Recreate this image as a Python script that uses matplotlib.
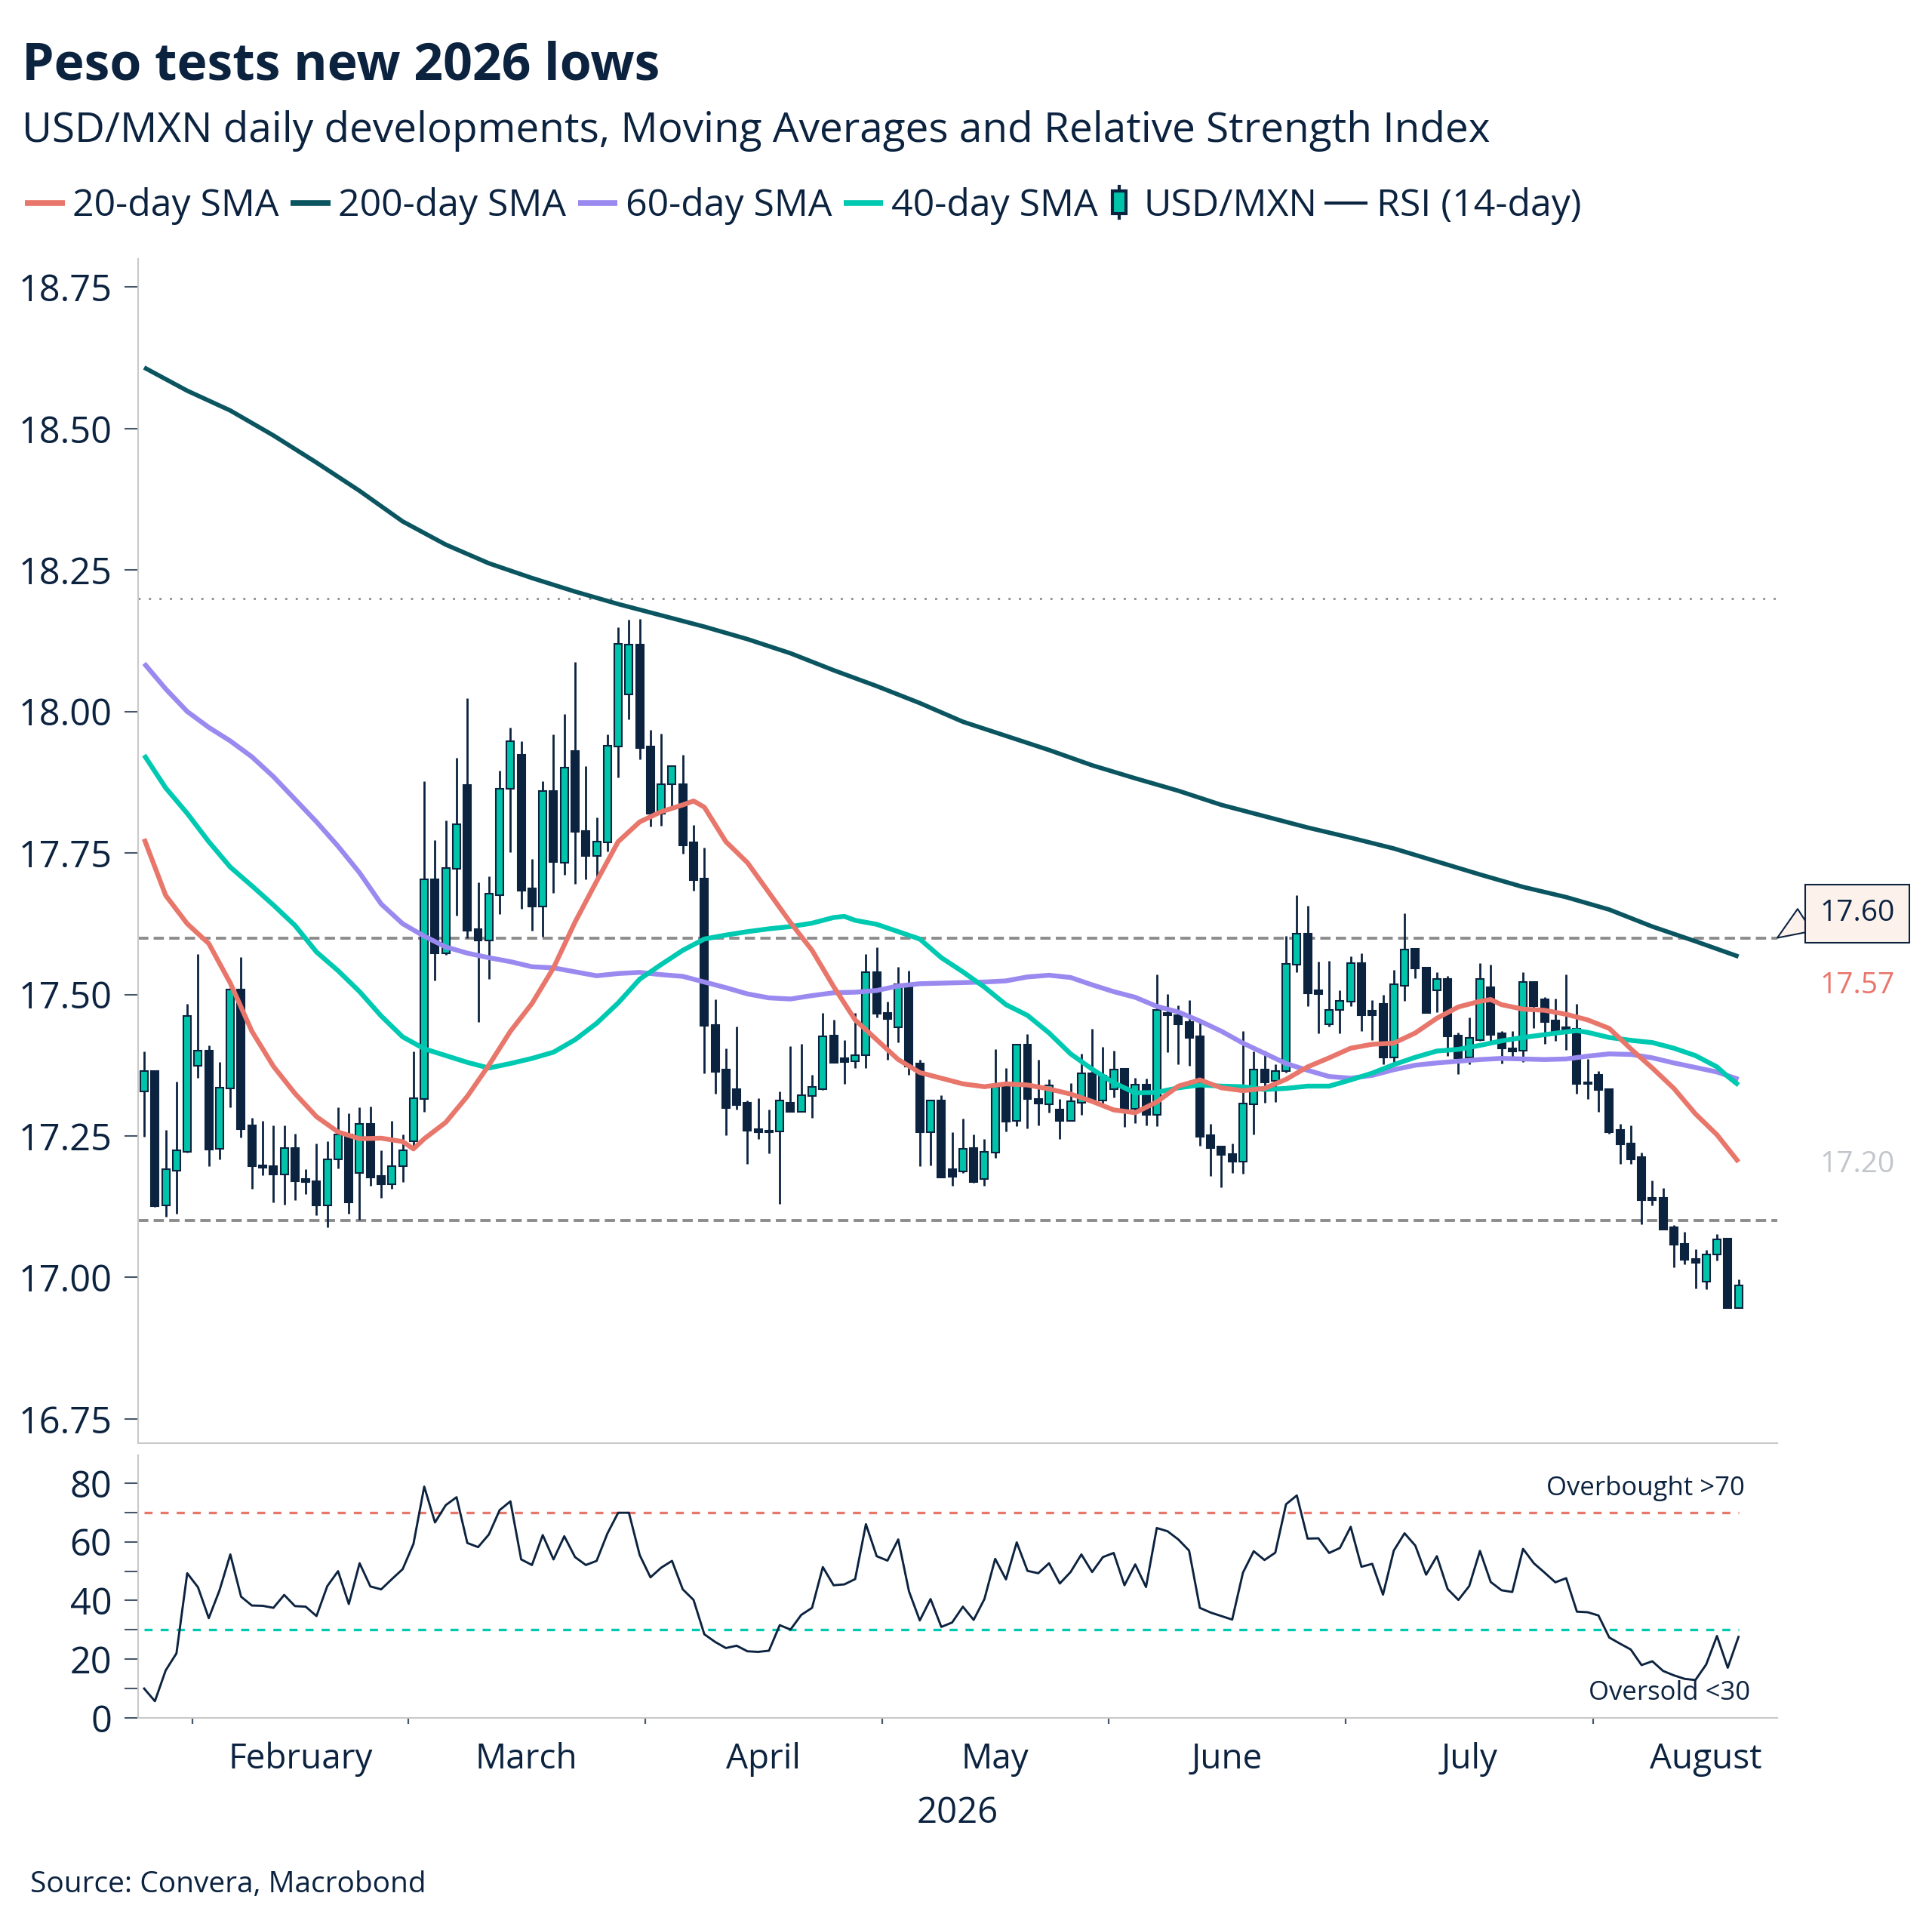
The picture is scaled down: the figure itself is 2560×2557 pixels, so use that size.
import numpy as np
import pandas as pd
import matplotlib
matplotlib.use("Agg")
import matplotlib.pyplot as plt
from matplotlib.lines import Line2D
from matplotlib.patches import Rectangle
from matplotlib.legend_handler import HandlerBase
from matplotlib.ticker import FixedLocator, FormatStrFormatter, MultipleLocator

plt.rcParams["font.family"] = ["Open Sans", "DejaVu Sans"]

NAVY = "#0c2340"
TEAL = "#00c4aa"
SALMON = "#e8766b"
DARKTEAL = "#0a5560"
LAVENDER = "#9a8af0"
TEAL40 = "#00c9b1"
GREY = "#8c8c8c"
SPINE = "#c9c9c9"
TICK = "#46566b"

# USD/MXN daily candles (first day 2026-01-26)
open_ = [17.329, 17.364, 17.127, 17.189, 17.222, 17.374, 17.400, 17.227, 17.334, 17.509,
         17.269, 17.198, 17.196, 17.182, 17.228, 17.174, 17.170, 17.127, 17.209, 17.253,
         17.184, 17.271, 17.179, 17.164, 17.196, 17.240, 17.315, 17.703, 17.573, 17.722,
         17.870, 17.616, 17.596, 17.676, 17.864, 17.924, 17.687, 17.656, 17.859, 17.733,
         17.930, 17.789, 17.745, 17.769, 17.938, 18.030, 18.118, 17.938, 17.820, 17.871,
         17.872, 17.769, 17.705, 17.446, 17.367, 17.333, 17.309, 17.262, 17.259, 17.258,
         17.309, 17.292, 17.321, 17.333, 17.427, 17.387, 17.382, 17.392, 17.539, 17.468,
         17.442, 17.518, 17.378, 17.257, 17.312, 17.191, 17.187, 17.229, 17.174, 17.220,
         17.336, 17.276, 17.412, 17.315, 17.306, 17.297, 17.276, 17.309, 17.361, 17.313,
         17.333, 17.368, 17.298, 17.340, 17.287, 17.468, 17.464, 17.451, 17.426, 17.251,
         17.231, 17.218, 17.205, 17.306, 17.367, 17.347, 17.364, 17.553, 17.607, 17.507,
         17.447, 17.473, 17.487, 17.556, 17.471, 17.484, 17.389, 17.516, 17.581, 17.548,
         17.507, 17.528, 17.428, 17.389, 17.420, 17.513, 17.431, 17.405, 17.400, 17.522,
         17.491, 17.454, 17.442, 17.439, 17.344, 17.358, 17.333, 17.261, 17.236, 17.212,
         17.141, 17.141, 17.088, 17.059, 17.032, 16.993, 17.041, 17.068, 16.946]
high = [17.399, 17.366, 17.260, 17.346, 17.484, 17.572, 17.410, 17.380, 17.511, 17.566,
        17.282, 17.276, 17.269, 17.269, 17.254, 17.191, 17.236, 17.240, 17.301, 17.290,
        17.301, 17.302, 17.224, 17.276, 17.253, 17.399, 17.877, 17.773, 17.808, 17.918,
        18.024, 17.698, 17.709, 17.895, 17.971, 17.947, 17.739, 17.877, 17.959, 17.996,
        18.088, 17.904, 17.813, 17.960, 18.149, 18.162, 18.164, 17.968, 17.961, 17.904,
        17.924, 17.800, 17.760, 17.491, 17.404, 17.444, 17.312, 17.316, 17.296, 17.329,
        17.409, 17.413, 17.358, 17.467, 17.456, 17.419, 17.468, 17.572, 17.584, 17.487,
        17.549, 17.542, 17.384, 17.312, 17.322, 17.256, 17.281, 17.253, 17.244, 17.403,
        17.370, 17.412, 17.430, 17.384, 17.350, 17.315, 17.343, 17.395, 17.439, 17.408,
        17.400, 17.368, 17.353, 17.351, 17.536, 17.501, 17.481, 17.490, 17.451, 17.271,
        17.231, 17.236, 17.436, 17.399, 17.401, 17.376, 17.604, 17.676, 17.657, 17.558,
        17.560, 17.507, 17.567, 17.573, 17.490, 17.500, 17.544, 17.644, 17.581, 17.548,
        17.540, 17.533, 17.433, 17.460, 17.556, 17.553, 17.436, 17.435, 17.539, 17.522,
        17.495, 17.493, 17.535, 17.484, 17.386, 17.364, 17.333, 17.271, 17.269, 17.220,
        17.171, 17.158, 17.093, 17.080, 17.050, 17.049, 17.076, 17.069, 16.996]
low = [17.249, 17.124, 17.107, 17.113, 17.220, 17.352, 17.196, 17.209, 17.301, 17.247,
       17.156, 17.180, 17.132, 17.129, 17.137, 17.147, 17.110, 17.088, 17.193, 17.112,
       17.102, 17.162, 17.140, 17.156, 17.168, 17.233, 17.292, 17.525, 17.570, 17.640,
       17.600, 17.452, 17.528, 17.642, 17.751, 17.652, 17.613, 17.602, 17.679, 17.711,
       17.696, 17.703, 17.698, 17.753, 17.884, 17.986, 17.916, 17.797, 17.798, 17.833,
       17.749, 17.684, 17.360, 17.325, 17.251, 17.297, 17.201, 17.244, 17.219, 17.130,
       17.292, 17.292, 17.282, 17.331, 17.379, 17.342, 17.370, 17.370, 17.460, 17.384,
       17.416, 17.358, 17.196, 17.198, 17.176, 17.162, 17.184, 17.167, 17.162, 17.211,
       17.258, 17.267, 17.263, 17.268, 17.291, 17.245, 17.276, 17.287, 17.313, 17.304,
       17.318, 17.266, 17.273, 17.269, 17.267, 17.398, 17.377, 17.374, 17.232, 17.179,
       17.159, 17.184, 17.183, 17.252, 17.309, 17.310, 17.362, 17.540, 17.480, 17.432,
       17.444, 17.431, 17.479, 17.436, 17.419, 17.377, 17.377, 17.489, 17.529, 17.467,
       17.469, 17.391, 17.359, 17.377, 17.418, 17.418, 17.378, 17.389, 17.380, 17.441,
       17.413, 17.418, 17.402, 17.324, 17.315, 17.292, 17.254, 17.201, 17.201, 17.094,
       17.127, 17.084, 17.018, 17.023, 16.980, 16.979, 17.030, 16.946, 16.946]
close = [17.364, 17.126, 17.191, 17.224, 17.462, 17.400, 17.226, 17.335, 17.509, 17.262,
         17.196, 17.194, 17.182, 17.228, 17.170, 17.168, 17.127, 17.209, 17.253, 17.133,
         17.271, 17.176, 17.164, 17.196, 17.224, 17.317, 17.703, 17.573, 17.724, 17.801,
         17.613, 17.596, 17.678, 17.864, 17.947, 17.684, 17.656, 17.859, 17.734, 17.901,
         17.787, 17.745, 17.770, 17.939, 18.120, 18.118, 17.936, 17.820, 17.871, 17.904,
         17.764, 17.702, 17.445, 17.363, 17.299, 17.304, 17.259, 17.256, 17.256, 17.313,
         17.292, 17.322, 17.337, 17.426, 17.379, 17.381, 17.393, 17.539, 17.466, 17.457,
         17.518, 17.373, 17.256, 17.312, 17.176, 17.178, 17.227, 17.169, 17.222, 17.336,
         17.275, 17.412, 17.315, 17.307, 17.339, 17.276, 17.311, 17.361, 17.313, 17.356,
         17.367, 17.298, 17.340, 17.287, 17.473, 17.464, 17.448, 17.424, 17.248, 17.229,
         17.217, 17.204, 17.307, 17.367, 17.344, 17.365, 17.554, 17.607, 17.502, 17.501,
         17.473, 17.489, 17.556, 17.463, 17.464, 17.389, 17.518, 17.580, 17.546, 17.468,
         17.527, 17.426, 17.387, 17.423, 17.528, 17.429, 17.404, 17.399, 17.522, 17.480,
         17.452, 17.436, 17.438, 17.342, 17.342, 17.331, 17.256, 17.235, 17.209, 17.136,
         17.137, 17.084, 17.058, 17.031, 17.026, 17.040, 17.067, 16.946, 16.986]

# RSI (14-day), one value per day
rsi = [10.0, 5.7, 16.2, 22.0, 49.3, 44.5, 34.0, 43.5, 55.7, 41.3,
       38.3, 38.2, 37.5, 41.9, 38.1, 37.9, 34.7, 44.9, 50.0, 38.8,
       52.7, 44.8, 43.8, 47.3, 50.7, 59.3, 78.8, 66.6, 72.5, 75.2,
       59.6, 58.2, 62.5, 70.8, 73.8, 54.0, 52.1, 62.3, 54.0, 61.9,
       54.8, 52.1, 53.5, 62.8, 69.9, 69.9, 55.5, 47.9, 51.2, 53.5,
       43.8, 40.2, 28.5, 25.9, 23.8, 24.6, 22.7, 22.5, 22.9, 31.6,
       30.1, 35.1, 37.5, 51.4, 45.2, 45.5, 47.3, 66.0, 55.1, 53.6,
       60.8, 43.1, 33.2, 40.5, 31.0, 32.5, 37.9, 33.4, 40.5, 54.2,
       47.2, 59.8, 50.1, 49.3, 52.7, 45.8, 49.7, 55.7, 49.7, 54.8,
       56.2, 45.2, 52.3, 44.6, 64.7, 63.6, 60.8, 57.0, 37.5, 35.9,
       34.7, 33.5, 49.5, 56.8, 53.8, 56.3, 72.8, 75.8, 61.1, 61.2,
       56.2, 57.9, 65.1, 51.5, 52.5, 42.0, 57.0, 62.9, 58.7, 48.8,
       55.1, 43.9, 40.2, 44.9, 56.9, 46.3, 43.5, 42.9, 57.6, 52.7,
       49.5, 46.2, 47.6, 36.2, 36.0, 34.9, 27.4, 25.3, 23.3, 18.0,
       19.3, 16.0, 14.5, 13.3, 12.9, 18.2, 27.9, 17.1, 27.6]

# moving averages, read at sampled days (day number counted from first candle)
sma20_day = [0, 2, 4, 6, 8, 10, 12, 14, 16, 18, 20, 22, 24, 25, 26, 28, 30, 32, 34, 36,
             38, 40, 42, 44, 46, 48, 50, 51, 52, 54, 56, 58, 60, 62, 64, 66, 68, 70, 72, 74,
             76, 78, 80, 82, 84, 86, 88, 90, 92, 94, 96, 98, 100, 102, 104, 106, 108, 110,
             112, 114, 116, 118, 120, 122, 124, 125, 126, 128, 130, 132, 134, 136, 138, 140,
             142, 144, 146, 148]
sma20 = [17.775, 17.675, 17.625, 17.590, 17.520, 17.435, 17.373, 17.325, 17.284, 17.257,
         17.245, 17.246, 17.240, 17.227, 17.245, 17.274, 17.320, 17.375, 17.435, 17.484,
         17.547, 17.628, 17.700, 17.770, 17.805, 17.823, 17.835, 17.842, 17.831, 17.770,
         17.733, 17.680, 17.627, 17.578, 17.514, 17.455, 17.420, 17.385, 17.362, 17.352,
         17.342, 17.337, 17.342, 17.340, 17.333, 17.324, 17.311, 17.296, 17.291, 17.310,
         17.338, 17.349, 17.335, 17.330, 17.334, 17.350, 17.372, 17.388, 17.405, 17.412,
         17.414, 17.432, 17.458, 17.478, 17.488, 17.491, 17.482, 17.474, 17.472, 17.465,
         17.455, 17.440, 17.404, 17.370, 17.334, 17.289, 17.252, 17.204]

sma40_day = [0, 2, 4, 6, 8, 10, 12, 14, 16, 18, 20, 22, 24, 26, 28, 30, 32, 34, 36, 38,
             40, 42, 44, 46, 48, 50, 52, 54, 56, 58, 60, 62, 64, 65, 66, 68, 70, 72, 74, 76,
             78, 80, 82, 84, 86, 88, 90, 92, 94, 96, 98, 100, 102, 104, 106, 108, 110, 112,
             114, 116, 118, 120, 122, 124, 126, 128, 130, 132, 133, 134, 136, 138, 140, 142,
             144, 146, 147, 148]
sma40 = [17.923, 17.865, 17.820, 17.770, 17.725, 17.692, 17.658, 17.622, 17.575, 17.542,
         17.505, 17.462, 17.425, 17.404, 17.392, 17.380, 17.370, 17.378, 17.387, 17.398,
         17.420, 17.449, 17.485, 17.527, 17.553, 17.578, 17.598, 17.605, 17.611, 17.616,
         17.620, 17.626, 17.636, 17.638, 17.631, 17.624, 17.611, 17.598, 17.565, 17.540,
         17.513, 17.482, 17.463, 17.432, 17.395, 17.368, 17.344, 17.326, 17.327, 17.335,
         17.340, 17.338, 17.337, 17.332, 17.334, 17.338, 17.338, 17.349, 17.361, 17.376,
         17.389, 17.400, 17.403, 17.410, 17.418, 17.424, 17.429, 17.434, 17.436, 17.433,
         17.424, 17.419, 17.415, 17.405, 17.392, 17.372, 17.355, 17.340]

sma60_day = list(range(0, 149, 2))
sma60 = [18.085, 18.040, 18.000, 17.972, 17.948, 17.920, 17.885, 17.845, 17.805, 17.762,
         17.715, 17.660, 17.625, 17.603, 17.584, 17.573, 17.565, 17.558, 17.549, 17.547,
         17.540, 17.533, 17.537, 17.539, 17.535, 17.532, 17.522, 17.512, 17.501, 17.494,
         17.492, 17.498, 17.503, 17.504, 17.507, 17.515, 17.519, 17.520, 17.521, 17.522,
         17.524, 17.531, 17.534, 17.530, 17.517, 17.505, 17.495, 17.479, 17.469, 17.453,
         17.435, 17.414, 17.396, 17.378, 17.366, 17.355, 17.352, 17.357, 17.367, 17.375,
         17.379, 17.382, 17.385, 17.387, 17.386, 17.385, 17.386, 17.391, 17.395, 17.394,
         17.388, 17.379, 17.371, 17.363, 17.350]

sma200_day = list(range(0, 149, 4))
sma200 = [18.608, 18.567, 18.532, 18.488, 18.440, 18.390, 18.336, 18.295, 18.262, 18.236,
          18.212, 18.190, 18.170, 18.150, 18.128, 18.103, 18.073, 18.045, 18.015, 17.982,
          17.957, 17.932, 17.905, 17.882, 17.860, 17.835, 17.815, 17.795, 17.777, 17.758,
          17.735, 17.712, 17.690, 17.672, 17.650, 17.620, 17.594, 17.567]

levels_dashed = [17.60, 17.10]
level_dotted = 18.20
rsi_overbought = 70
rsi_oversold = 30
price_ticks = [16.75, 17.00, 17.25, 17.50, 17.75, 18.00, 18.25, 18.50, 18.75]
end_labels = [("17.57", 17.516, SALMON), ("17.20", 17.199, "#c2c6cb")]
callout_value = 17.60

open_ = np.array(open_)
high = np.array(high)
low = np.array(low)
close = np.array(close)
dates = pd.bdate_range("2026-01-26", periods=len(close))
x = np.arange(len(dates))

# month boundaries / centres on the trading-day axis
bounds, centres, names = [], [], []
for m in pd.period_range("2026-02", "2026-08", freq="M"):
    first = int(np.argmax(dates >= m.start_time)) - 0.5
    ndays = len(pd.bdate_range(m.start_time, m.end_time))
    bounds.append(first)
    centres.append(first + ndays / 2)
    names.append(m.strftime("%B"))

W, H = 2560, 2557
fig = plt.figure(figsize=(W / 100, H / 100), dpi=100)
ax = fig.add_axes([183 / W, 1 - 1912 / H, (2355 - 183) / W, (1912 - 343) / H])
axr = fig.add_axes([183 / W, 1 - 2276 / H, (2355 - 183) / W, (2276 - 1928) / H], sharex=ax)

for a in (ax, axr):
    for s in ("top", "right"):
        a.spines[s].set_visible(False)
    for s in ("left", "bottom"):
        a.spines[s].set_color(SPINE)
        a.spines[s].set_linewidth(1.5)
    a.tick_params(axis="y", which="both", length=13, width=1.5, color=TICK,
                  labelsize=35, labelcolor=NAVY, pad=12)

# candles
up = close >= open_
ax.vlines(x, low, high, color=NAVY, lw=2.0, zorder=2)
ax.bar(x, np.abs(close - open_), bottom=np.minimum(open_, close), width=0.7,
       color=np.where(up, TEAL, NAVY), edgecolor=NAVY, linewidth=1.5, zorder=3)

# levels
for lv in levels_dashed:
    ax.axhline(lv, color=GREY, lw=2.8, dashes=(3.5, 1.8), zorder=1)
ax.axhline(level_dotted, color=GREY, lw=2.0, dashes=(1.0, 4.0), zorder=1)

# moving averages
ax.plot(sma60_day, sma60, color=LAVENDER, lw=4.6, zorder=4, solid_capstyle="butt")
ax.plot(sma40_day, sma40, color=TEAL40, lw=4.6, zorder=5, solid_capstyle="butt")
ax.plot(sma200_day, sma200, color=DARKTEAL, lw=4.2, zorder=5, solid_capstyle="butt")
ax.plot(sma20_day, sma20, color=SALMON, lw=4.6, zorder=6, solid_capstyle="butt")

ax.set_ylim(16.707, 18.80)
ax.set_xlim(-0.56, 151.6)
ax.set_yticks(price_ticks)
ax.yaxis.set_major_formatter(FormatStrFormatter("%.2f"))
ax.tick_params(axis="x", which="both", length=0, labelbottom=False)

# callout and end labels
ax.annotate("17.60", xy=(ax.get_xlim()[1], callout_value), xytext=(159.05, 17.643),
            ha="center", va="center", fontsize=28, color=NAVY, annotation_clip=False,
            bbox=dict(boxstyle="square,pad=0.5", fc="#fdf1ec", ec=NAVY, lw=1.5),
            arrowprops=dict(arrowstyle="wedge,tail_width=0.9,shrink_factor=0.5",
                            fc="#fdf1ec", ec=NAVY, lw=1.5, relpos=(0, 0.62),
                            shrinkA=0, shrinkB=0))
for txt, yv, col in end_labels:
    ax.text(159.0, yv, txt, ha="center", va="center", fontsize=28, color=col, clip_on=False)

# RSI panel
axr.plot(x, rsi, color=NAVY, lw=2.1, zorder=3)
axr.hlines(rsi_overbought, x[0], x[-1], color=SALMON, lw=2.4, linestyles=(0, (3.2, 3.2)))
axr.hlines(rsi_oversold, x[0], x[-1], color=TEAL40, lw=2.4, linestyles=(0, (3.2, 3.2)))
axr.text(x[-1] + 0.6, 75.8, "Overbought >70", ha="right", va="baseline", fontsize=25, color=NAVY)
axr.text(x[-1] + 1.1, 6.2, "Oversold <30", ha="right", va="baseline", fontsize=25, color=NAVY)
axr.set_ylim(0, 89.5)
axr.yaxis.set_major_locator(FixedLocator([0, 20, 40, 60, 80]))
axr.yaxis.set_minor_locator(MultipleLocator(10))

axr.xaxis.set_major_locator(FixedLocator(bounds))
axr.xaxis.set_major_formatter(plt.NullFormatter())
axr.set_xticks(centres, names, minor=True)
axr.tick_params(axis="x", which="major", length=6, width=1.6, color=TICK)
axr.tick_params(axis="x", which="minor", length=0, labelsize=33, labelcolor=NAVY, pad=23)
axr.set_xlabel("2026", fontsize=34, color=NAVY)
axr.xaxis.set_label_coords(0.5, -0.295)
axr.set_xlim(-0.56, 151.6)

# titles
fig.text(29 / W, 1 - 106 / H, "Peso tests new 2026 lows", fontsize=49, fontweight="bold",
         color=NAVY, va="baseline")
fig.text(29 / W, 1 - 188 / H, "USD/MXN daily developments, Moving Averages and Relative Strength Index",
         fontsize=39.5, color=NAVY, va="baseline")
fig.text(40 / W, 1 - 2507 / H, "Source: Convera, Macrobond", fontsize=28, color=NAVY, va="baseline")


# legend
class CandleHandler(HandlerBase):
    def create_artists(self, legend, orig_handle, xdescent, ydescent, width, height, fontsize, trans):
        cx = -xdescent + width / 2
        cy = -ydescent + height / 2
        bw, bh = height * 0.5, height * 0.86
        wick = Line2D([cx, cx], [cy - height * 0.6, cy + height * 0.6], color=NAVY, lw=3, transform=trans)
        body = Rectangle((cx - bw / 2, cy - bh / 2), bw, bh, facecolor=TEAL, edgecolor=NAVY,
                         lw=3, transform=trans)
        return [wick, body]


legend_y = 1 - 273 / H
common = dict(loc="center left", frameon=False, fontsize=36, borderpad=0, borderaxespad=0,
              labelcolor=NAVY)
sma_handles = [Line2D([], [], color=c, lw=5.5, solid_capstyle="butt")
               for c in (SALMON, DARKTEAL, LAVENDER, TEAL40)]
sma_labels = ["20-day SMA", "200-day SMA", "60-day SMA", "40-day SMA"]
fig.legend(sma_handles, sma_labels, bbox_to_anchor=(33 / W, legend_y), ncol=4,
           handlelength=1.05, handletextpad=0.22, columnspacing=0.3, **common)

candle_handle = Rectangle((0, 0), 1, 1)
fig.legend([candle_handle], ["USD/MXN"], bbox_to_anchor=(1469 / W, legend_y),
           handlelength=0.55, handletextpad=0.38,
           handler_map={candle_handle: CandleHandler()}, **common)

fig.legend([Line2D([], [], color=NAVY, lw=3, solid_capstyle="butt")], ["RSI (14-day)"],
           bbox_to_anchor=(1755 / W, legend_y), handlelength=1.14, handletextpad=0.24, **common)

fig.savefig("out.png", dpi=100, facecolor="white")
